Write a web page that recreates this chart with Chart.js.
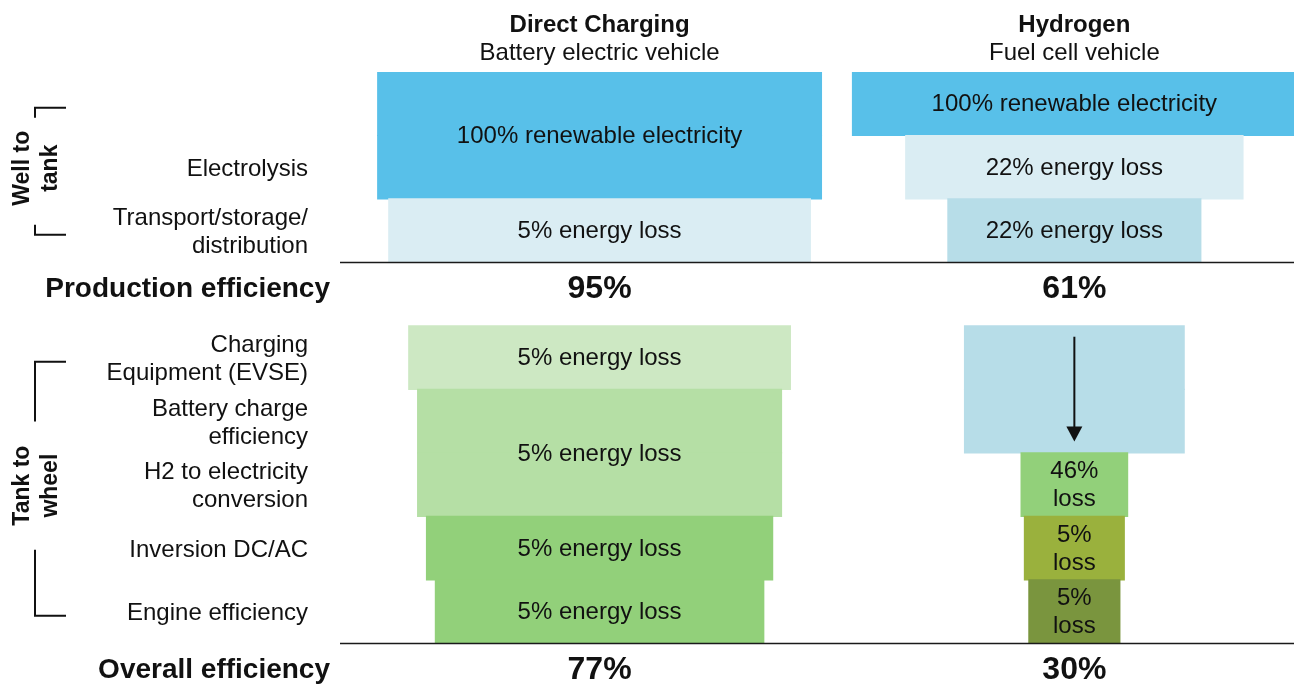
<!DOCTYPE html>
<html>
<head>
<meta charset="utf-8">
<title>Direct charging vs hydrogen efficiency</title>
<script src="https://cdn.jsdelivr.net/npm/chart.js@4.4.1/dist/chart.umd.min.js"></script>
<style>
  html, body { margin: 0; padding: 0; background: #fff; overflow: hidden; }
  .wrap { position: relative; width: 1294px; height: 684px; }
</style>
</head>
<body>
<div class="wrap"><canvas id="chart"></canvas></div>
<script>
  // ----- data -----
  // rows of the funnel, top to bottom (row 3 and 9 are the summary rows)
  const rowLabels = [
    '', 'Electrolysis', ['Transport/storage/', 'distribution'], '',
    ['Charging', 'Equipment (EVSE)'], ['Battery charge', 'efficiency'],
    ['H2 to electricity', 'conversion'], 'Inversion DC/AC', 'Engine efficiency', ''
  ];

  const columnTitles    = ['Direct Charging', 'Hydrogen'];
  const columnSubtitles = ['Battery electric vehicle', 'Fuel cell vehicle'];

  // each box: first/last row it covers, width (% of the input electricity), caption
  const directBoxRows  = [[0, 1], [2, 2], [4, 4], [5, 6], [7, 7], [8, 8]];
  const directBoxShare = [100, 95, 86, 82, 78, 74];
  const directBoxText  = ['100% renewable electricity', '5% energy loss', '5% energy loss',
                          '5% energy loss', '5% energy loss', '5% energy loss'];

  const hydrogenBoxRows  = [[0, 0], [1, 1], [2, 2], [4, 5], [6, 6], [7, 7], [8, 8]];
  const hydrogenBoxShare = [100, 76, 57, 49.5, 24, 22.5, 20.5];
  const hydrogenBoxText  = ['100% renewable electricity', '22% energy loss', '22% energy loss',
                            '', '46%\nloss', '5%\nloss', '5%\nloss'];
  const hydrogenArrowBox = 3;   // box with the down arrow

  const summaryRows        = [3, 9];
  const summaryLabels      = ['Production efficiency', 'Overall efficiency'];
  const directEfficiency   = [95, 77];
  const hydrogenEfficiency = [61, 30];

  const groupLabels = [['Well to', 'tank'], ['Tank to', 'wheel']];
  const groupRows   = [[0, 2], [4, 8]];

  // ----- style -----
  const directColors   = ['#58C0E9', '#DAEDF3', '#CDE8C3', '#B5DFA5', '#92D07A', '#92D07A'];
  const hydrogenColors = ['#58C0E9', '#DAEDF3', '#B7DDE8', '#B7DDE8', '#92D07A', '#9AB13D', '#7A953E'];
  const FONT = "'Liberation Sans', Arial, sans-serif";
  const COL_CENTER = [50, 157];   // x value of each column's centre line
  const TEXT = '#111';

  // ----- helpers -----
  function buildPoints(rows, share, center) {
    const pts = [];
    rows.forEach(([r0, r1], i) => {
      for (let r = r0; r <= r1; r++) {
        pts.push({ y: r, x: [center - share[i] / 2, center + share[i] / 2] });
      }
    });
    return pts;
  }

  function buildColors(rows, colors) {
    const out = [];
    rows.forEach(([r0, r1], i) => {
      for (let r = r0; r <= r1; r++) out.push(colors[i]);
    });
    return out;
  }

  function drawLines(ctx, text, cx, cy, lh) {
    const lines = String(text).split('\n');
    lines.forEach((t, i) => ctx.fillText(t, cx, cy + (i - (lines.length - 1) / 2) * lh));
  }

  // ----- overlay: captions, headers, summary rows, brackets -----
  const overlay = {
    id: 'overlay',
    afterDatasetsDraw(chart) {
      const { ctx, chartArea, scales: { x, y } } = chart;
      ctx.save();
      ctx.fillStyle = TEXT;
      ctx.strokeStyle = TEXT;
      ctx.textAlign = 'center';
      ctx.textBaseline = 'middle';

      // box captions
      ctx.font = '24px ' + FONT;
      const captions = [
        [directBoxRows, directBoxText, COL_CENTER[0]],
        [hydrogenBoxRows, hydrogenBoxText, COL_CENTER[1]]
      ];
      captions.forEach(([rows, texts, c]) => {
        const cx = x.getPixelForValue(c);
        rows.forEach(([r0, r1], i) => {
          if (!texts[i]) return;
          const cy = (y.getPixelForValue(r0) + y.getPixelForValue(r1)) / 2 + 1;
          drawLines(ctx, texts[i], cx, cy, 28);
        });
      });

      // arrow in the hydrogen storage box
      {
        const [r0, r1] = hydrogenBoxRows[hydrogenArrowBox];
        const ax = x.getPixelForValue(COL_CENTER[1]);
        const top = y.getPixelForValue(r0 - 0.33);
        const tip = y.getPixelForValue(r1 + 0.32);
        ctx.lineWidth = 2;
        ctx.beginPath();
        ctx.moveTo(ax, top);
        ctx.lineTo(ax, tip - 12);
        ctx.stroke();
        ctx.beginPath();
        ctx.moveTo(ax - 8, tip - 15);
        ctx.lineTo(ax + 8, tip - 15);
        ctx.lineTo(ax, tip);
        ctx.closePath();
        ctx.fill();
      }

      // separator lines under each section
      ctx.lineWidth = 1.6;
      ctx.strokeStyle = '#1a1a1a';
      summaryRows.forEach((r) => {
        const ly = Math.round(y.getPixelForValue(r - 0.5)) + 0.5;
        ctx.beginPath();
        ctx.moveTo(chartArea.left, ly);
        ctx.lineTo(chartArea.right, ly);
        ctx.stroke();
      });

      // summary rows
      summaryRows.forEach((r, i) => {
        const cy = y.getPixelForValue(r) - (i === 0 ? 5 : 5);
        ctx.font = 'bold 28px ' + FONT;
        ctx.textAlign = 'right';
        ctx.fillText(summaryLabels[i], chartArea.left - 10, cy);
        ctx.textAlign = 'center';
        ctx.font = 'bold 32px ' + FONT;
        ctx.fillText(directEfficiency[i] + '%', x.getPixelForValue(COL_CENTER[0]), cy);
        ctx.fillText(hydrogenEfficiency[i] + '%', x.getPixelForValue(COL_CENTER[1]), cy);
      });

      // column headers
      ctx.textBaseline = 'alphabetic';
      columnTitles.forEach((t, i) => {
        const cx = x.getPixelForValue(COL_CENTER[i]);
        ctx.font = 'bold 24px ' + FONT;
        ctx.fillText(t, cx, 32);
        ctx.font = '24px ' + FONT;
        ctx.fillText(columnSubtitles[i], cx, 60);
      });

      // group brackets with rotated labels
      ctx.strokeStyle = TEXT;
      ctx.lineWidth = 2;
      groupLabels.forEach((lines, g) => {
        const [r0, r1] = groupRows[g];
        const top = y.getPixelForValue(r0) + 4;
        const bottom = y.getPixelForValue(r1) + 4;
        const mid = (y.getPixelForValue(r0) + y.getPixelForValue(r1)) / 2 + 1;
        ctx.save();
        ctx.translate(37, mid);
        ctx.rotate(-Math.PI / 2);
        ctx.font = 'bold 23px ' + FONT;
        ctx.textAlign = 'center';
        ctx.textBaseline = 'middle';
        lines.forEach((t, i) => ctx.fillText(t, 0, (i - (lines.length - 1) / 2) * 28));
        const half = Math.max(...lines.map((t) => ctx.measureText(t).width)) / 2;
        ctx.restore();
        const gap = 24;
        ctx.beginPath();
        ctx.moveTo(66, top);
        ctx.lineTo(35, top);
        ctx.lineTo(35, Math.max(top + 10, mid - half - gap));
        ctx.moveTo(35, Math.min(bottom - 10, mid + half + gap));
        ctx.lineTo(35, bottom);
        ctx.lineTo(66, bottom);
        ctx.stroke();
      });

      ctx.restore();
    }
  };

  // ----- chart -----
  document.addEventListener('DOMContentLoaded', () => {
    if (typeof Chart === 'undefined') {
      console.error('Chart.js not loaded');
      return;
    }

    const barDefaults = {
      borderWidth: 0,
      barPercentage: 1,
      categoryPercentage: 1,
      inflateAmount: 0.6,   // closes the seam where a box spans two rows
      grouped: false
    };

    new Chart(document.getElementById('chart'), {
      type: 'bar',
      data: {
        datasets: [
          Object.assign({
            label: columnTitles[0],
            data: buildPoints(directBoxRows, directBoxShare, COL_CENTER[0]),
            backgroundColor: buildColors(directBoxRows, directColors)
          }, barDefaults),
          Object.assign({
            label: columnTitles[1],
            data: buildPoints(hydrogenBoxRows, hydrogenBoxShare, COL_CENTER[1]),
            backgroundColor: buildColors(hydrogenBoxRows, hydrogenColors)
          }, barDefaults)
        ]
      },
      options: {
        indexAxis: 'y',
        responsive: true,
        maintainAspectRatio: false,
        animation: false,
        layout: { padding: { top: 72, right: 0, bottom: 0, left: 0 } },
        plugins: { legend: { display: false }, tooltip: { enabled: false } },
        scales: {
          x: {
            type: 'linear',
            display: false,
            min: -8.5,
            max: 206.5
          },
          y: {
            type: 'linear',
            reverse: true,
            offset: false,
            min: -0.5,
            max: 9.14,
            grid: { display: false },
            border: { display: false },
            afterBuildTicks: (axis) => {
              axis.ticks = rowLabels.map((_, i) => ({ value: i }));
            },
            afterFit: (axis) => {
              axis.width = 340;
              axis.paddingTop = 0;
              axis.paddingBottom = 0;
            },
            ticks: {
              autoSkip: false,
              padding: 24,
              labelOffset: 2,
              color: TEXT,
              font: { family: FONT, size: 24, lineHeight: 1.17 },
              callback: (value) => rowLabels[value] || ''
            }
          }
        }
      },
      plugins: [overlay]
    });
  });
</script>
</body>
</html>
